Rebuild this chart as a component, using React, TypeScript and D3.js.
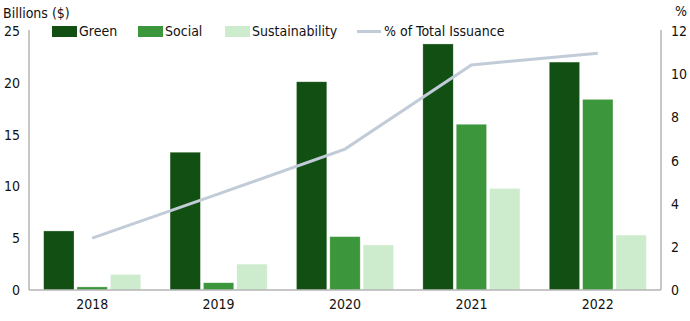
import React from "react";
import * as d3 from "d3";

const years = ["2018", "2019", "2020", "2021", "2022"];
const green = [5.7, 13.3, 20.1, 23.75, 22.0];
const social = [0.3, 0.7, 5.15, 16.0, 18.4];
const sustainability = [1.5, 2.5, 4.35, 9.8, 5.3];
const pctTotal = [2.4, 4.45, 6.53, 10.43, 10.97];
const leftTicks = [0, 5, 10, 15, 20, 25];
const rightTicks = [0, 2, 4, 6, 8, 10, 12];
const seriesNames = ["Green", "Social", "Sustainability"];
const lineName = "% of Total Issuance";

const colors = ["#124f12", "#3c963c", "#cdebcd"];
const lineColor = "#c1ccd8";
const axisColor = "#b4b4b4";
const font = "'DejaVu Sans Condensed', 'Liberation Sans Narrow', sans-serif";

export default function App() {
  const W = 690, H = 321;
  const left = 29, right = 661, top = 31, bottom = 290;
  const x = d3.scaleBand<string>().domain(years).range([left, right]).paddingInner(0.232).paddingOuter(0.116);
  const sub = d3.scaleBand<number>().domain([0, 1, 2]).range([0, x.bandwidth()]).paddingInner(0.09);
  const yL = d3.scaleLinear().domain([0, 25]).range([bottom, top]);
  const yR = d3.scaleLinear().domain([0, 12]).range([bottom, top]);
  const series = [green, social, sustainability];
  const line = d3.line<number>().x((_, i) => (x(years[i]) as number) + x.bandwidth() / 2).y((v) => yR(v));
  const legendX = [52, 138, 225];
  return (
    <svg width={W} height={H} style={{ position: "absolute", left: 0, top: 0 }} fontFamily={font} fontSize={14}>
      <text x={3} y={18} fill="#111">Billions ($)</text>
      <text x={675} y={16} fill="#111">%</text>
      <line x1={left} x2={left} y1={top - 1} y2={bottom} stroke={axisColor} strokeWidth={1.5} />
      <line x1={right} x2={right} y1={top - 1} y2={bottom} stroke={axisColor} strokeWidth={1.5} />
      {leftTicks.map((t) => (
        <text key={"l" + t} x={20} y={yL(t) + 5} textAnchor="end" fill="#111">{t}</text>
      ))}
      {rightTicks.map((t) => (
        <text key={"r" + t} x={671} y={yR(t) + 5} textAnchor="start" fill="#111">{t}</text>
      ))}
      {series.map((vals, si) =>
        vals.map((v, i) => (
          <rect key={si + "-" + i}
            x={(x(years[i]) as number) + (sub(si) as number)}
            y={yL(v)} width={sub.bandwidth()} height={bottom - yL(v)}
            fill={colors[si]} stroke="#ffffff" strokeOpacity={0.5} strokeWidth={0.6} />
        ))
      )}
      <line x1={left} x2={right} y1={bottom} y2={bottom} stroke={axisColor} strokeWidth={1.5} />
      <path d={line(pctTotal) || ""} fill="none" stroke={lineColor} strokeWidth={3} />
      {years.map((yr) => (
        <text key={yr} x={(x(yr) as number) + x.bandwidth() / 2} y={309} textAnchor="middle" fill="#111">{yr}</text>
      ))}
      {seriesNames.map((n, i) => (
        <g key={n}>
          <rect x={legendX[i]} y={26} width={25} height={11} fill={colors[i]} />
          <text x={legendX[i] + 27} y={36} fill="#111">{n}</text>
        </g>
      ))}
      <line x1={357} x2={381} y1={31.5} y2={31.5} stroke={lineColor} strokeWidth={3} />
      <text x={384} y={36} fill="#111">{lineName}</text>
    </svg>
  );
}
